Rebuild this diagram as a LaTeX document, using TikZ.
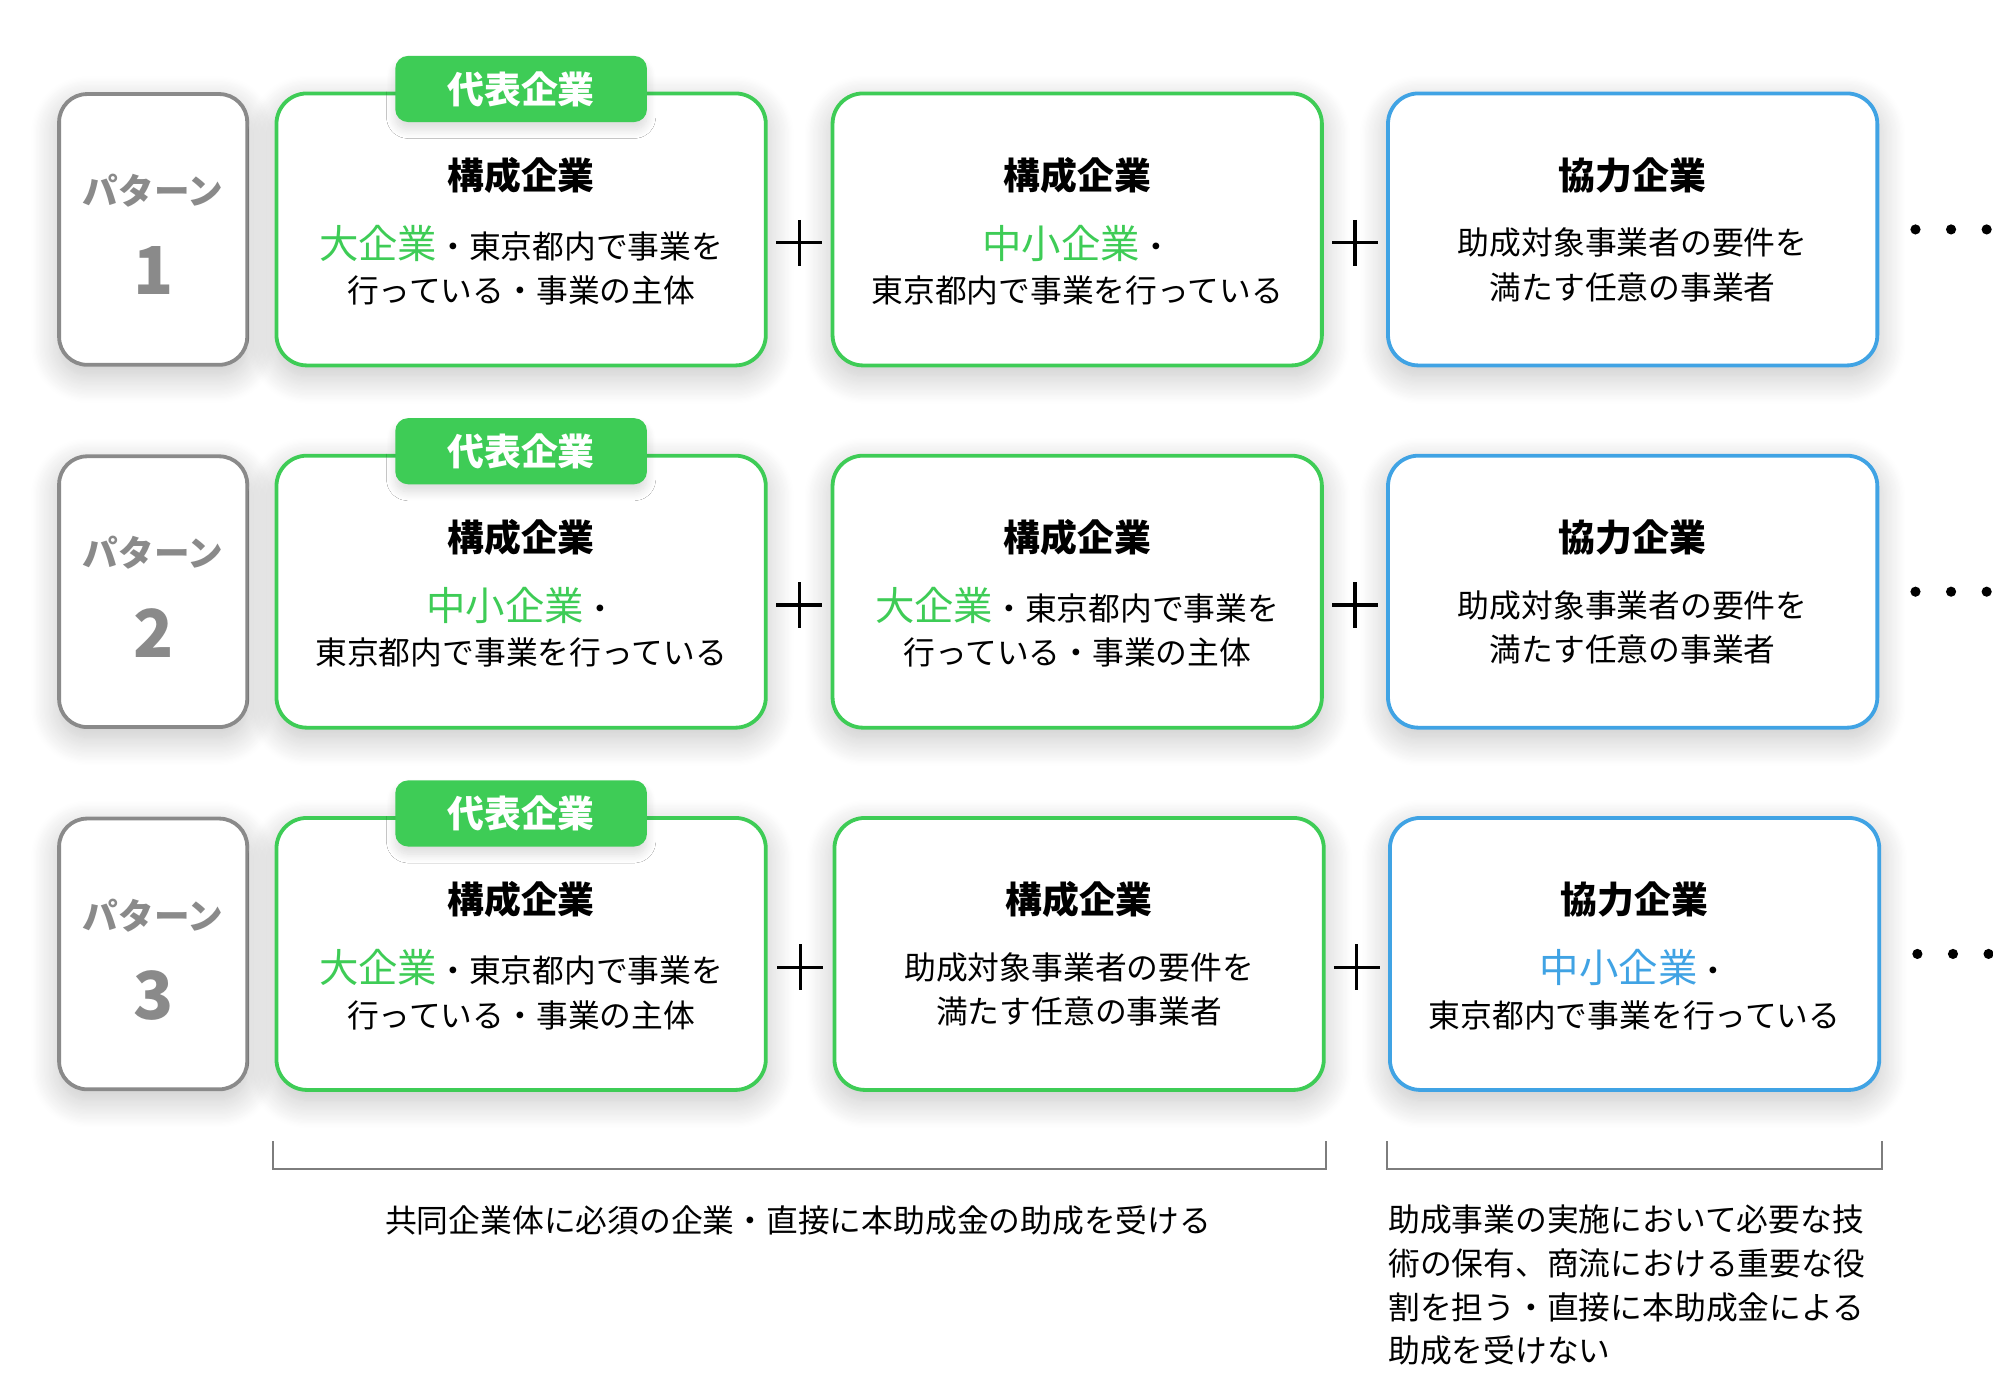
\documentclass[tikz,border=0pt]{standalone}
\usepackage{fontspec}
\setmainfont{Noto Sans CJK JP}
\usetikzlibrary{shadows.blur,calc}
\definecolor{grn}{RGB}{62,204,86}
\definecolor{blu}{RGB}{64,163,228}
\definecolor{gry}{RGB}{138,138,138}
\definecolor{brk}{RGB}{125,125,125}
\newcommand\fs[1]{\fontsize{#1}{#1}\selectfont}
\newcommand\gk[1]{{\color{grn}\fs{31}#1}}
\newcommand\bk[1]{{\color{blu}\fs{31}#1}}
\begin{document}
\begin{tikzpicture}[x=1pt,y=-1pt,
  sh/.style={blur shadow={shadow xshift=0pt,shadow yshift=-8pt,shadow blur radius=22pt,shadow blur steps=24,shadow opacity=24}},
  pat/.style={draw=gry,line width=3pt,fill=white,rounded corners=22pt,minimum width=148pt,minimum height=213pt,sh},
  gcard/.style={draw=grn,line width=3pt,fill=white,rounded corners=24pt,minimum width=385pt,minimum height=214pt,sh},
  bcard/.style={gcard,draw=blu},
  tag/.style={fill=grn,rounded corners=10pt,minimum width=198pt,minimum height=52pt,text=white,font=\bfseries\fs{29},
    blur shadow={shadow xshift=0pt,shadow yshift=-6pt,shadow blur radius=7pt,shadow blur steps=12,shadow opacity=14}},
  ptx/.style={text=gry,font=\bfseries\fs{28}},
  pnum/.style={text=gry,font=\bfseries\fs{52}},
  ttl/.style={font=\bfseries\fs{29}},
  bdy/.style={font=\fontsize{25}{35}\selectfont,align=center},
  pl/.style={line width=2.5pt},
  brk/.style={draw=brk,line width=1.5pt}]
\useasboundingbox (0,0) rectangle (1568,1080);
% cards
\node[pat] (p1) at (120.5,180.5) {};
\node[gcard] (a1) at (410,180.5) {};
\node[gcard] (b1) at (847.5,180.5) {};
\node[bcard] (c1) at (1284.5,180.5) {};
\node[tag] (t1) at (410,70) {代表企業};
\node[pat] (p2) at (120.5,465.5) {};
\node[gcard] (a2) at (410,465.5) {};
\node[gcard] (b2) at (847.5,465.5) {};
\node[bcard] (c2) at (1284.5,465.5) {};
\node[tag] (t2) at (410,355) {代表企業};
\node[pat] (p3) at (120.5,750.5) {};
\node[gcard] (a3) at (410,750.5) {};
\node[gcard] (b3) at (849,750.5) {};
\node[bcard] (c3) at (1286,750.5) {};
\node[tag] (t3) at (410,640) {代表企業};
% texts
\foreach \r in {1,2,3}{
  \node[ptx] (p\r t) at ([yshift=30.5pt]p\r.center) {パターン};
  \node[pnum] (p\r n) at ([yshift=-32.5pt]p\r.center) {\r};
  \node[ttl] (a\r t) at ([yshift=42.5pt]a\r.center) {構成企業};
  \node[ttl] (b\r t) at ([yshift=42.5pt]b\r.center) {構成企業};
}
\node[ttl] (c1t) at ([yshift=42.5pt]c1.center) {協力企業};
\node[ttl] (c2t) at ([yshift=42.5pt]c2.center) {協力企業};
\node[ttl] (c3t) at ([yshift=42.5pt]c3.center) {協力企業};
\node[bdy] (a1b) at ([yshift=-28pt]a1.center) {\gk{大企業}・東京都内で事業を\\行っている・事業の主体};
\node[bdy] (b1b) at ([yshift=-28pt]b1.center) {\gk{中小企業}・\\東京都内で事業を行っている};
\node[bdy] (c1b) at ([yshift=-28pt]c1.center) {助成対象事業者の要件を\\満たす任意の事業者};
\node[bdy] (a2b) at ([yshift=-28pt]a2.center) {\gk{中小企業}・\\東京都内で事業を行っている};
\node[bdy] (b2b) at ([yshift=-28pt]b2.center) {\gk{大企業}・東京都内で事業を\\行っている・事業の主体};
\node[bdy] (c2b) at ([yshift=-28pt]c2.center) {助成対象事業者の要件を\\満たす任意の事業者};
\node[bdy] (a3b) at ([yshift=-28pt]a3.center) {\gk{大企業}・東京都内で事業を\\行っている・事業の主体};
\node[bdy] (b3b) at ([yshift=-28pt]b3.center) {助成対象事業者の要件を\\満たす任意の事業者};
\node[bdy] (c3b) at ([yshift=-28pt]c3.center) {\bk{中小企業}・\\東京都内で事業を行っている};
% plus signs and dots
\foreach \r in {1,2,3}{
  \coordinate (m\r) at ($(a\r.east)!.5!(b\r.west)+(0,10.5)$);
  \coordinate (n\r) at ($(b\r.east)!.5!(c\r.west)+(0,10.5)$);
  \draw[pl] (m\r) +(-18,0) -- +(18,0) +(0,-18) -- +(0,18);
  \draw[pl] (n\r) +(-18,0) -- +(18,0) +(0,-18) -- +(0,18);
  \foreach \d in {28.5,56.5,84.5} \fill ($(c\r.east)+(\d,0)$) circle (4pt);
}
% brackets
\draw[brk] (215,898) |- (1043,920) -- (1043,898);
\draw[brk] (1091,898) |- (1481,920) -- (1481,898);
\node[font=\fs{25}] (s1) at (628,960) {共同企業体に必須の企業・直接に本助成金の助成を受ける};
\node[font=\fontsize{25}{34.5}\selectfont,align=left,anchor=north west,inner sep=0pt] (s2) at (1092,947.5)
  {助成事業の実施において必要な技\\術の保有、商流における重要な役\\割を担う・直接に本助成金による\\助成を受けない};
\end{tikzpicture}
\end{document}
